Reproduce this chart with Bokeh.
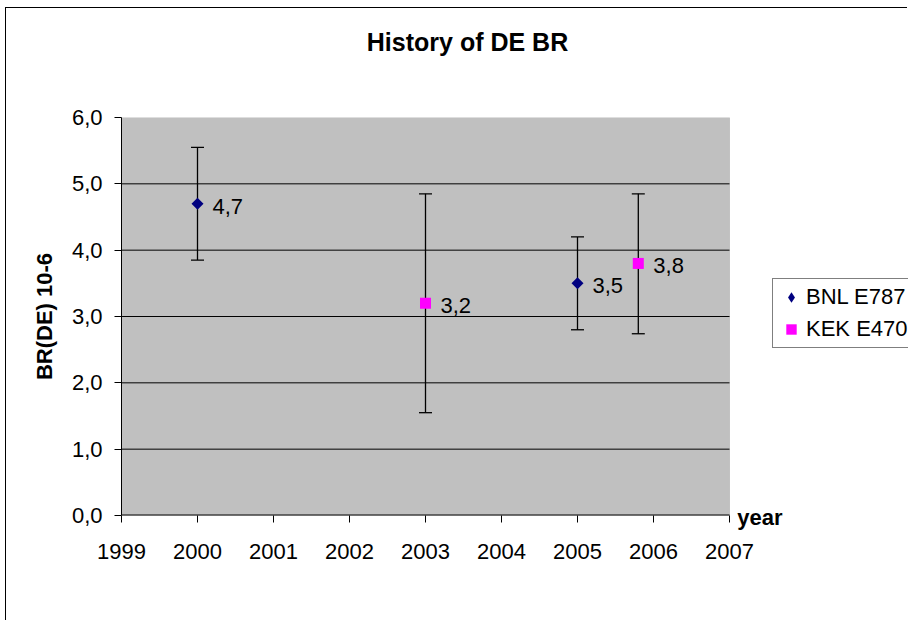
import numpy as np
from bokeh.plotting import figure
from bokeh.models import (ColumnDataSource, Legend, LegendItem, FixedTicker, Range1d,
                          LinearAxis, BoxAnnotation)
from bokeh.embed import file_html
from bokeh.resources import INLINE
from bokeh.core.properties import value

# ---------------- data ----------------
title_text = "History of DE BR"
y_axis_title = "BR(DE) 10-6"
x_axis_title = "year"

bnl_name = "BNL E787"
bnl_year = [2000, 2005]
bnl_br = [4.7, 3.5]
bnl_err_low = [0.85, 0.70]
bnl_err_high = [0.85, 0.70]
bnl_labels = ["4,7", "3,5"]

kek_name = "KEK E470"
kek_year = [2003, 2005.8]
kek_br = [3.2, 3.8]
kek_err_low = [1.65, 1.06]
kek_err_high = [1.65, 1.05]
kek_labels = ["3,2", "3,8"]

x_ticks = [1999, 2000, 2001, 2002, 2003, 2004, 2005, 2006, 2007]
x_tick_labels = ["1999", "2000", "2001", "2002", "2003", "2004", "2005", "2006", "2007"]
y_ticks = [0, 1, 2, 3, 4, 5, 6]
y_tick_labels = ["0,0", "1,0", "2,0", "3,0", "4,0", "5,0", "6,0"]

# ---------------- layout constants (pixels) ----------------
FONT = "Liberation Sans"
FS = "22px"
PLOT_W = 608          # width of the grey plot area
RIGHT_PAD = 179       # white space right of the plot area (holds legend / "year")
TITLE_CENTER = 346    # title centre, measured from the plot area's left edge
px_per_year = PLOT_W / (x_ticks[-1] - x_ticks[0])
x_end = x_ticks[-1] + RIGHT_PAD / px_per_year

NAVY = "#000080"
MAGENTA = "#FF00FF"
GREY = "#C0C0C0"

# ---------------- figure ----------------
p = figure(width=902, height=613,
           x_range=Range1d(x_ticks[0], x_end), y_range=Range1d(y_ticks[0], y_ticks[-1]),
           output_backend="svg", toolbar_location=None,
           min_border_left=115, min_border_right=0, min_border_top=109, min_border_bottom=106)
p.title.visible = False
p.background_fill_color = "white"
p.border_fill_color = "white"
p.outline_line_color = None
p.styles = {"margin-left": "5px", "margin-top": "7px",
            "border-left": "1px solid black", "border-top": "1px solid black"}
p.xgrid.visible = False
p.ygrid.visible = False

# grey plot area with its grey border
p.add_layout(BoxAnnotation(left=x_ticks[0], right=x_ticks[-1],
                           bottom=y_ticks[0], top=y_ticks[-1],
                           fill_color=GREY, fill_alpha=1,
                           line_color="#808080", line_width=1, level="underlay"))
# horizontal gridlines
inner_y = y_ticks[1:-1]
p.segment(x0=[x_ticks[0]] * len(inner_y), x1=[x_ticks[-1]] * len(inner_y),
          y0=inner_y, y1=inner_y, line_color="black", line_width=1)
# x axis line (bottom edge of the plot area)
p.segment(x0=[x_ticks[0]], x1=[x_ticks[-1]], y0=[y_ticks[0]], y1=[y_ticks[0]],
          line_color="black", line_width=2)

# ---- y axis ----
yax = p.yaxis[0]
yax.ticker = FixedTicker(ticks=y_ticks)
yax.major_label_overrides = {float(t): l for t, l in zip(y_ticks, y_tick_labels)}
yax.major_label_text_font = FONT
yax.major_label_text_font_size = FS
yax.major_label_text_color = "black"
yax.axis_line_color = "black"
yax.major_tick_line_color = "black"
yax.major_tick_out = 7
yax.major_tick_in = 0
yax.minor_tick_line_color = None
yax.major_label_standoff = 12
yax.axis_label = y_axis_title
yax.axis_label_text_font = FONT
yax.axis_label_text_font_style = "bold"
yax.axis_label_text_font_size = FS
yax.axis_label_text_color = "black"
yax.axis_label_standoff = 12

# ---- x axis, first band: tick marks at the years + "year" caption at the end ----
year_x = x_ticks[-1] + (8 + 22.5) / px_per_year
xax = p.xaxis[0]
xax.ticker = FixedTicker(ticks=[year_x], minor_ticks=x_ticks)
xax.major_label_overrides = {float(year_x): x_axis_title}
xax.axis_line_color = None
xax.major_tick_line_color = None
xax.major_tick_out = 0
xax.major_tick_in = 0
xax.minor_tick_line_color = "black"
xax.minor_tick_out = 7
xax.minor_tick_in = 0
xax.major_label_standoff = -18
xax.major_label_text_font = FONT
xax.major_label_text_font_size = FS
xax.major_label_text_font_style = "bold"
xax.major_label_text_color = "black"

# ---- x axis, second band: the year numbers ----
year_labels_axis = LinearAxis(ticker=FixedTicker(ticks=x_ticks),
                              major_label_overrides={float(t): l for t, l in zip(x_ticks, x_tick_labels)},
                              axis_line_color=None, major_tick_line_color=None,
                              minor_tick_line_color=None, major_tick_out=0, major_tick_in=0,
                              major_label_standoff=11,
                              major_label_text_font=FONT, major_label_text_font_size=FS,
                              major_label_text_color="black")
p.add_layout(year_labels_axis, "below")

# ---- chart title (bare top axis carrying one label) ----
title_x = x_ticks[0] + TITLE_CENTER / px_per_year
title_axis = LinearAxis(ticker=FixedTicker(ticks=[title_x]),
                        major_label_overrides={float(title_x): title_text},
                        axis_line_color=None, major_tick_line_color=None,
                        minor_tick_line_color=None, major_tick_out=0, major_tick_in=0,
                        major_label_standoff=62,
                        major_label_text_font=FONT, major_label_text_font_size="25px",
                        major_label_text_font_style="bold", major_label_text_color="black")
p.add_layout(title_axis, "above")

# ---------------- sources ----------------
bnl_src = ColumnDataSource(dict(
    x=bnl_year, y=bnl_br,
    lower=[v - e for v, e in zip(bnl_br, bnl_err_low)],
    upper=[v + e for v, e in zip(bnl_br, bnl_err_high)],
    label=bnl_labels))
kek_src = ColumnDataSource(dict(
    x=kek_year, y=kek_br,
    lower=[v - e for v, e in zip(kek_br, kek_err_low)],
    upper=[v + e for v, e in zip(kek_br, kek_err_high)],
    label=kek_labels))

# error bars: vertical line + horizontal caps
for src in (bnl_src, kek_src):
    p.segment(x0="x", x1="x", y0="lower", y1="upper", source=src,
              line_color="black", line_width=1.3)
    p.scatter("x", "lower", source=src, marker="dash", size=13,
              line_color="black", line_width=1.3)
    p.scatter("x", "upper", source=src, marker="dash", size=13,
              line_color="black", line_width=1.3)

# markers
p.scatter("x", "y", source=bnl_src, marker="square", angle=np.pi / 4, size=8.5,
          fill_color=NAVY, line_color=None)
r_bnl = p.scatter("x", "y", source=bnl_src, marker="diamond", size=10,
                  fill_color=NAVY, line_color=None)
r_kek = p.scatter("x", "y", source=kek_src, marker="square", size=11,
                  fill_color=MAGENTA, line_color=None)

# data labels
for src in (bnl_src, kek_src):
    p.text("x", "y", text="label", source=src, x_offset=15, y_offset=2.5,
           text_baseline="middle", text_align="left",
           text_font=value(FONT), text_font_size=FS, text_color="black")

# ---------------- legend ----------------
legend = Legend(items=[LegendItem(label=bnl_name, renderers=[r_bnl]),
                       LegendItem(label=kek_name, renderers=[r_kek])],
                location=(PLOT_W + 43, 167), orientation="vertical", margin=0,
                border_line_color="black", border_line_width=1,
                background_fill_color="white", background_fill_alpha=1,
                label_text_font=FONT, label_text_font_size=FS, label_text_color="black",
                glyph_width=26, glyph_height=26, padding=5, spacing=6, label_standoff=2)
p.add_layout(legend)

open("out.html", "w").write(file_html(p, INLINE))
